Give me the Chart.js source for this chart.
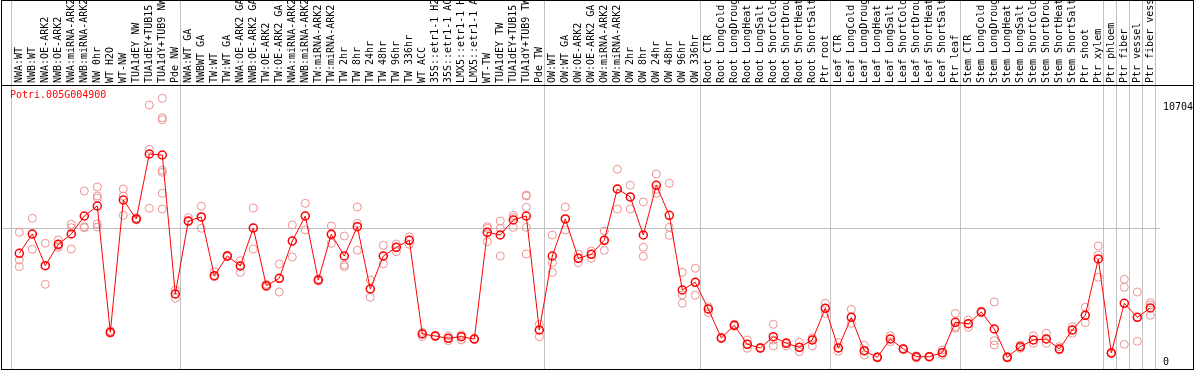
<!DOCTYPE html>
<html><head><meta charset="utf-8">
<script src="https://cdn.jsdelivr.net/npm/chart.js@4/dist/chart.umd.min.js"></script>
<style>html,body{margin:0;padding:0;background:#fff;overflow:hidden}canvas{display:block}</style>
</head><body>
<canvas id="c" width="1194" height="370"></canvas>
<script>
const categories = ["NWA:WT","NWB:WT","NWA:OE-ARK2","NWB:OE-ARK2","NWA:miRNA-ARK2","NWB:miRNA-ARK2","NW 0hr","WT H2O","WT-NW","TUA1dEY NW","TUA1dEY+TUB15 NW","TUA1dY+TUB9 NW","Pde NW","NWA:WT GA","NWBWT GA","TW:WT","TW:WT GA","NWA:OE-ARK2 GA","NWB:OE-ARK2 GA","TW:OE-ARK2","TW:OE-ARK2 GA","NWA:miRNA-ARK2 GA","NWB:miRNA-ARK2 GA","TW:miRNA-ARK2","TW:miRNA-ARK2 GA","TW 2hr","TW 8hr","TW 24hr","TW 48hr","TW 96hr","TW 336hr","WT ACC","35S::etr1-1 H2O","35S::etr1-1 ACC","LMX5::etr1-1 H2O","LMX5::etr1-1 ACC","WT-TW","TUA1dEY TW","TUA1dEY+TUB15 TW","TUA1dY+TUB9 TW","Pde TW","OW:WT","OW:WT GA","OW:OE-ARK2","OW:OE-ARK2 GA","OW:miRNA-ARK2","OW:miRNA-ARK2 GA","OW 2hr","OW 8hr","OW 24hr","OW 48hr","OW 96hr","OW 336hr","Root CTR","Root LongCold","Root LongDrought","Root LongHeat","Root LongSalt","Root ShortCold","Root ShortDrought","Root ShortHeat","Root ShortSalt","Ptr root","Leaf CTR","Leaf LongCold","Leaf LongDrought","Leaf LongHeat","Leaf LongSalt","Leaf ShortCold","Leaf ShortDrought","Leaf ShortHeat","Leaf ShortSalt","Ptr leaf","Stem CTR","Stem LongCold","Stem LongDrought","Stem LongHeat","Stem LongSalt","Stem ShortCold","Stem ShortDrought","Stem ShortHeat","Stem ShortSalt","Ptr shoot","Ptr xylem","Ptr phloem","Ptr fiber","Ptr vessel","Ptr fiber vessel"];

const means = [4563,5373,4042,4941,5373,6128,6548,1247,6800,6003,8731,8689,2854,5919,6087,3623,4449,4030,5625,3203,3513,5079,6128,3442,5360,4449,5679,3064,4449,4815,5108,1175,1091,995,1062,965,5444,5331,5961,6128,1343,4449,6003,4353,4521,5108,7262,6926,5331,7417,6158,3022,3346,2225,1007,1541,743,588,1062,785,617,923,2254,588,1876,474,197,965,546,222,222,390,1666,1608,2099,1385,197,642,923,965,546,1343,1960,4324,378,2464,1876,2267];

const replicates = [
[5444,4282,4000],[6032,4731,5373],[4983,3262,4042],[5121,4815,4882],[5780,5637,4743],
[7178,5679,5637],[7346,6968,6884,5793,5667],[1314,1205,1238],[7262,6968,6158],[6057,6003,5961],
[10788,8928,6452],[11069,10255,10171,8047,7963,7081,6422],[3022,2674,2854],[6057,5889,5919],[6536,5612,6087],
[3790,3581,3623],[4420,4449,4480],[4252,3765,4030],[6464,4743,5625],[3262,3161,3190],
[4114,2938,3513],[5751,4407,5079],[6662,5541,6128],[3442,3400,3480],[5709,4983,5360],
[5289,4072,4000],[6506,5822,4689],[3442,2716,3064],[4899,4114,4449],[4953,4630,4815],
[5260,4941,5108],[1247,1062,1175],[1121,1062,1091],[1091,894,995],[1133,923,1062],
[965,940,990],[5679,5050,5612],[5919,5612,4449],[6158,5654,6057],[7010,6968,6494,5654,4533],
[1582,1062,1343],[5331,4168,3765],[6506,5541,6003],[4533,4168,4353],[4659,4353,4521],
[5499,4689,5108],[8089,6422,7262],[7417,6422,6926],[6716,4815,4437],[7891,7249,7081],
[7501,5654,5318],[3765,2812,2464],[3933,2800,3346],[2321,2069,2225],[980,1007,1030],
[1500,1541,1580],[923,575,743],[560,588,615],[1582,672,923],[827,672,785],
[827,432,617],[1020,672,923],[2464,2044,2254],[810,449,588],[2212,1624,1876],
[701,294,474],[170,197,230],[1104,852,965],[520,546,575],[222,168,260],
[222,200,245],[504,294,390],[2044,1482,1415],[1763,1457,1608],[2070,2099,2130],
[2519,894,714],[170,197,230],[714,575,642],[1104,785,923],[1205,785,965],
[642,504,546],[1482,1205,1343],[2296,1650,1960],[4869,4491,3555],[350,378,400],
[3471,3136,743],[2938,869,1876],[2489,1960,2393]
];

const groupStarts = [1,14,42,54,64,74,85,86,87,88,89];
const yTickValues = [0, 10704];
const yTickLabels = ["0", "10704"];
const midTickValues = [5619.5];
const midTickLabels = ["5619."];
const chartTitle = "Potri.005G004900";

const X_MIN = -0.331, X_MAX = 88.746;
const Y_MIN = -294, Y_MAX = 11627;
const FONT = {family: "'DejaVu Sans Mono', monospace", size: 10};

const repPoints = [];
replicates.forEach((arr, i) => arr.forEach(v => repPoints.push({x: i + 1, y: v})));
const meanPoints = means.map((v, i) => ({x: i + 1, y: v}));

const framePlugin = {
  id: 'frame',
  afterDraw(chart) {
    const ctx = chart.ctx;
    const ca = chart.chartArea;
    ctx.save();
    ctx.fillStyle = '#ff0000';
    ctx.font = "10px 'DejaVu Sans Mono', monospace";
    ctx.textBaseline = 'middle';
    ctx.textAlign = 'left';
    ctx.fillText(chartTitle, ca.left + 8, ca.top + 10.5);
    ctx.strokeStyle = '#000';
    ctx.lineWidth = 1;
    ctx.strokeRect(1.5, 0.5, 1192, 369);
    ctx.beginPath();
    ctx.moveTo(1, ca.top + 0.5);
    ctx.lineTo(1194, ca.top + 0.5);
    ctx.stroke();
    ctx.restore();
  }
};
const bgPlugin = {
  id: 'bg',
  beforeDraw(chart) {
    const ctx = chart.ctx;
    ctx.save();
    ctx.fillStyle = '#fff';
    ctx.fillRect(0, 0, chart.width, chart.height);
    ctx.restore();
  }
};
const noPad = s => { s.paddingLeft = 0; s.paddingRight = 0; s.paddingTop = 0; s.paddingBottom = 0; };

new Chart(document.getElementById('c'), {
  data: {
    datasets: [
      {
        type: 'line',
        label: 'mean',
        data: meanPoints,
        xAxisID: 'x', yAxisID: 'y',
        borderColor: '#ff0000',
        borderWidth: 1,
        tension: 0,
        pointRadius: 4,
        pointBorderWidth: 1.5,
        pointBorderColor: '#ff0000',
        pointBackgroundColor: 'rgba(0,0,0,0)',
        order: 1
      },
      {
        type: 'scatter',
        label: 'replicates',
        data: repPoints,
        xAxisID: 'x', yAxisID: 'y',
        pointRadius: 4,
        borderWidth: 1,
        borderColor: 'rgb(238,146,146)',
        backgroundColor: 'rgba(0,0,0,0)',
        order: 2
      }
    ]
  },
  options: {
    responsive: false,
    animation: false,
    devicePixelRatio: 1,
    layout: {autoPadding: false, padding: {left: 2, right: 1, top: 0, bottom: 1}},
    plugins: {legend: {display: false}, tooltip: {enabled: false}, title: {display: false}},
    scales: {
      x: {
        type: 'linear', position: 'top', min: X_MIN, max: X_MAX, weight: 1,
        afterBuildTicks: s => { s.ticks = categories.map((c, i) => ({value: i + 1})); },
        afterFit: s => { s.height = 85; noPad(s); },
        ticks: {
          autoSkip: false, minRotation: 90, maxRotation: 90, padding: 2, labelOffset: 12,
          color: '#000', font: FONT,
          callback: (v) => categories[Math.round(v) - 1]
        },
        grid: {display: false, drawTicks: false},
        border: {display: false}
      },
      x2: {
        type: 'linear', position: 'top', min: X_MIN, max: X_MAX, weight: 0,
        afterBuildTicks: s => { s.ticks = groupStarts.map(g => ({value: g - 0.615})); },
        afterFit: s => { s.height = 0; noPad(s); },
        ticks: {display: false},
        grid: {color: '#c0c0c0', lineWidth: 1, tickLength: 85, drawTicks: true, drawOnChartArea: true},
        border: {display: false}
      },
      y: {
        type: 'linear', position: 'right', min: Y_MIN, max: Y_MAX, weight: 1,
        afterBuildTicks: s => { s.ticks = yTickValues.map(v => ({value: v})); },
        afterFit: s => { s.width = 33; noPad(s); },
        ticks: {
          padding: 3, color: '#000', font: FONT, crossAlign: 'near',
          callback: (v) => yTickLabels[yTickValues.indexOf(v)]
        },
        grid: {display: false, drawTicks: false},
        border: {display: false}
      },
      y2: {
        type: 'linear', position: 'right', min: Y_MIN, max: Y_MAX, weight: 0,
        afterBuildTicks: s => { s.ticks = midTickValues.map(v => ({value: v})); },
        afterFit: s => { s.width = 0; noPad(s); },
        ticks: {
          padding: 3, color: '#000', font: FONT, crossAlign: 'near', labelOffset: 5,
          callback: (v) => midTickLabels[midTickValues.indexOf(v)]
        },
        grid: {color: '#c0c0c0', lineWidth: 1, drawTicks: false, drawOnChartArea: true},
        border: {display: false}
      }
    }
  },
  plugins: [bgPlugin, framePlugin]
});
</script>
</body></html>
